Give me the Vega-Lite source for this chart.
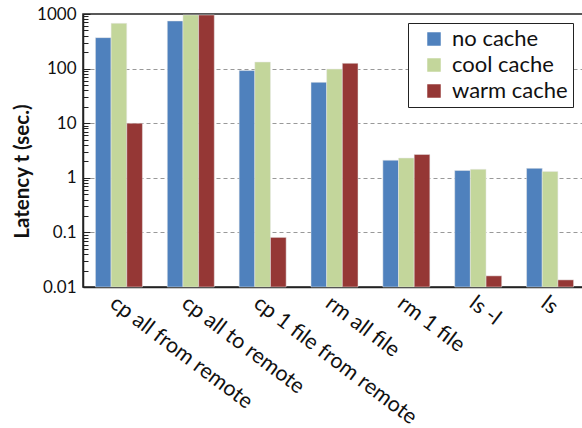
{
  "$schema": "https://vega.github.io/schema/vega-lite/v6.json",
  "autosize": {"type": "none"},
  "padding": {"left": 83, "top": 14, "right": 0, "bottom": 141},
  "width": 503,
  "height": 273,
  "background": "white",
  "config": {
    "font": "Lato",
    "view": {"stroke": "#222", "strokeWidth": 1.5},
    "axis": {"labelFont": "Lato", "titleFont": "Lato"}
  },
  "data": {
    "values": [
      {"cmd": "cp all from remote", "cache": "no cache", "t": 369},
      {"cmd": "cp all from remote", "cache": "cool cache", "t": 675},
      {"cmd": "cp all from remote", "cache": "warm cache", "t": 10},
      {"cmd": "cp all to remote", "cache": "no cache", "t": 745},
      {"cmd": "cp all to remote", "cache": "cool cache", "t": 960},
      {"cmd": "cp all to remote", "cache": "warm cache", "t": 960},
      {"cmd": "cp 1 file from remote", "cache": "no cache", "t": 92},
      {"cmd": "cp 1 file from remote", "cache": "cool cache", "t": 132},
      {"cmd": "cp 1 file from remote", "cache": "warm cache", "t": 0.081},
      {"cmd": "rm all file", "cache": "no cache", "t": 56},
      {"cmd": "rm all file", "cache": "cool cache", "t": 98},
      {"cmd": "rm all file", "cache": "warm cache", "t": 125},
      {"cmd": "rm 1 file", "cache": "no cache", "t": 2.1},
      {"cmd": "rm 1 file", "cache": "cool cache", "t": 2.3},
      {"cmd": "rm 1 file", "cache": "warm cache", "t": 2.68},
      {"cmd": "ls -l", "cache": "no cache", "t": 1.36},
      {"cmd": "ls -l", "cache": "cool cache", "t": 1.43},
      {"cmd": "ls -l", "cache": "warm cache", "t": 0.016},
      {"cmd": "ls", "cache": "no cache", "t": 1.49},
      {"cmd": "ls", "cache": "cool cache", "t": 1.31},
      {"cmd": "ls", "cache": "warm cache", "t": 0.0135}
    ]
  },
  "mark": {"type": "bar", "stroke": "#e8e8e8", "strokeWidth": 0.5},
  "encoding": {
    "x": {
      "field": "cmd",
      "type": "nominal",
      "sort": null,
      "scale": {"paddingInner": 0.346, "paddingOuter": 0.173},
      "axis": {
        "title": null,
        "labelAngle": 37,
        "labelAlign": "left",
        "labelBaseline": "top",
        "labelFontSize": 21.5,
        "labelColor": "#111",
        "labelPadding": 5,
        "labelDx": -6,
        "ticks": false,
        "domainColor": "#222",
        "domainWidth": 1.5,
        "labelLimit": 400
      }
    },
    "xOffset": {"field": "cache", "type": "nominal", "sort": ["no cache", "cool cache", "warm cache"]},
    "y": {
      "field": "t",
      "type": "quantitative",
      "scale": {"type": "log", "domain": [0.01, 1000], "nice": false},
      "axis": {
        "title": "Latency t (sec.)",
        "titleFontSize": 20.5,
        "titleFontWeight": "bold",
        "titleColor": "#111",
        "titleX": -55,
        "titleY": 157,
        "titleAngle": -90,
        "titleAlign": "center",
        "titleBaseline": "alphabetic",
        "labelFontSize": 17,
        "labelColor": "#111",
        "labelPadding": 14,
        "format": "~g",
        "values": [0.01,0.02,0.03,0.04,0.05,0.06,0.07,0.08,0.09,0.1,0.2,0.3,0.4,0.5,0.6,0.7,0.8,0.9,1,2,3,4,5,6,7,8,9,10,20,30,40,50,60,70,80,90,100,200,300,400,500,600,700,800,900,1000],
        "labelExpr": "(datum.value==0.01||datum.value==0.1||datum.value==1||datum.value==10||datum.value==100||datum.value==1000) ? datum.label : ''",
        "tickColor": "#222",
        "tickSize": {"condition": {"test": "datum.value==0.01||datum.value==0.1||datum.value==1||datum.value==10||datum.value==100||datum.value==1000", "value": -7}, "value": -5},
        "grid": true,
        "gridColor": "#999",
        "gridDash": [4, 3],
        "gridOpacity": {"condition": {"test": "datum.value==0.1||datum.value==1||datum.value==10||datum.value==100", "value": 1}, "value": 0},
        "domainColor": "#222",
        "domainWidth": 1.5
      }
    },
    "y2": {"datum": 0.01},
    "color": {
      "field": "cache",
      "type": "nominal",
      "sort": ["no cache", "cool cache", "warm cache"],
      "scale": {"domain": ["no cache", "cool cache", "warm cache"], "range": ["#4f81bd", "#c3d69b", "#953735"]},
      "legend": {
        "title": null,
        "orient": "none",
        "legendX": 325,
        "legendY": 9,
        "strokeColor": "#222",
        "padding": 5,
        "symbolOffset": 10,
        "symbolType": "square",
        "symbolSize": 182,
        "symbolStrokeWidth": 0,
        "labelFontSize": 22,
        "labelColor": "#111",
        "rowPadding": 4,
        "labelOffset": 7,
        "fillColor": "white"
      }
    }
  }
}
